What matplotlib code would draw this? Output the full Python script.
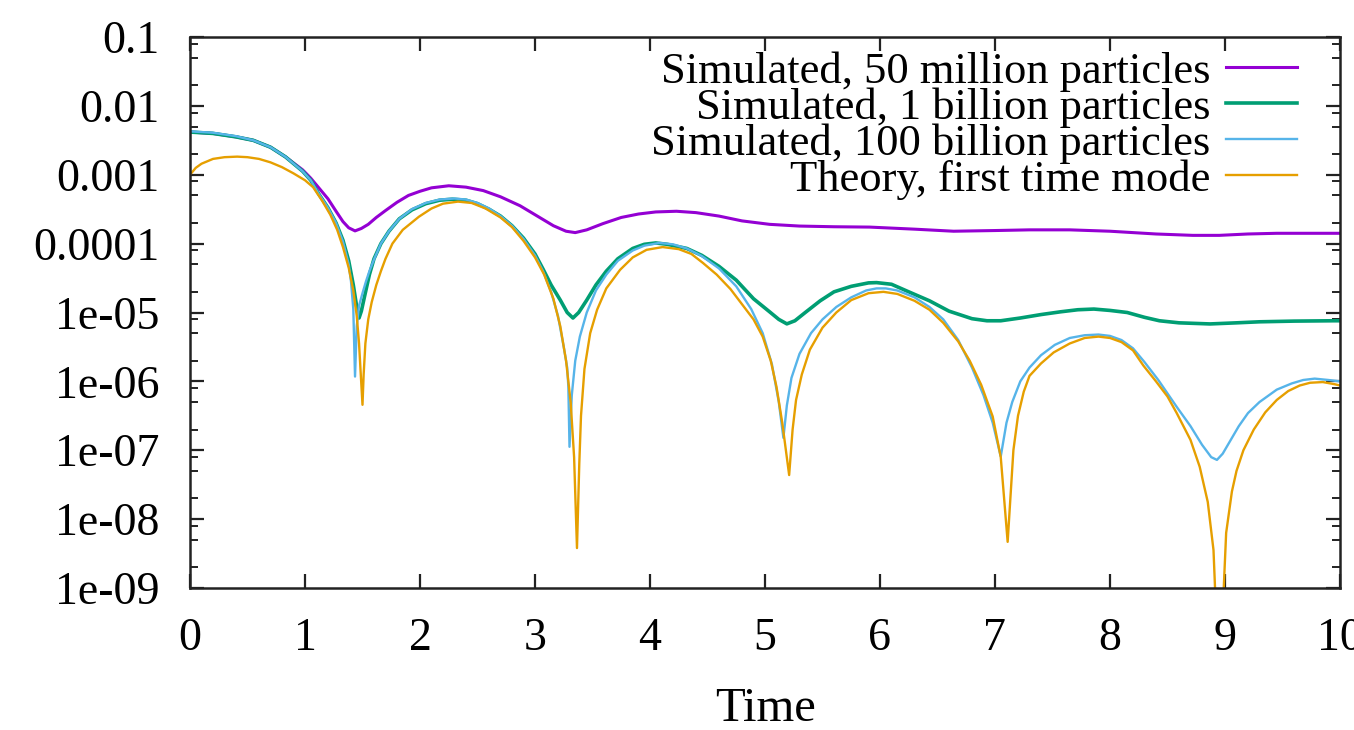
import numpy as np
import matplotlib
matplotlib.use("Agg")
import matplotlib.pyplot as plt
from matplotlib.ticker import LogLocator, FixedLocator, FixedFormatter, NullFormatter

# ---------------- data (y given as log10) ----------------
labels = ["Simulated, 50 million particles",
          "Simulated, 1 billion particles",
          "Simulated, 100 billion particles",
          "Theory, first time mode"]

t_50m = [0, 0.2, 0.4, 0.55, 0.7, 0.83, 0.98, 1.05, 1.12, 1.2, 1.27, 1.33, 1.38,
         1.435, 1.49, 1.55, 1.62, 1.7, 1.8, 1.9, 2.0, 2.1, 2.25, 2.4, 2.55, 2.7,
         2.87, 3.0, 3.16, 3.27, 3.35, 3.45, 3.59, 3.75, 3.9, 4.05, 4.23, 4.4, 4.6,
         4.8, 5.04, 5.3, 5.6, 5.91, 6.3, 6.64, 7.0, 7.3, 7.65, 8.0, 8.4, 8.72,
         8.95, 9.2, 9.45, 9.7, 10]
log_y_50m = [-2.38, -2.40, -2.45, -2.50, -2.60, -2.74, -2.93, -3.05, -3.19, -3.35,
             -3.53, -3.68, -3.77, -3.815, -3.78, -3.72, -3.62, -3.52, -3.40, -3.30,
             -3.24, -3.19, -3.16, -3.18, -3.23, -3.32, -3.45, -3.58, -3.74, -3.82,
             -3.84, -3.80, -3.71, -3.62, -3.57, -3.54, -3.53, -3.55, -3.60, -3.67,
             -3.72, -3.745, -3.755, -3.76, -3.79, -3.82, -3.81, -3.80, -3.80, -3.82,
             -3.86, -3.88, -3.88, -3.86, -3.85, -3.85, -3.85]

t_1b = [0, 0.2, 0.4, 0.55, 0.7, 0.83, 0.98, 1.05, 1.12, 1.2, 1.27, 1.33, 1.38,
        1.42, 1.45, 1.47, 1.49, 1.52, 1.56, 1.6, 1.66, 1.73, 1.82, 1.93, 2.05,
        2.17, 2.28, 2.4, 2.5, 2.6, 2.7, 2.8, 2.9, 3.0, 3.07, 3.14, 3.22, 3.28,
        3.33, 3.38, 3.45, 3.53, 3.62, 3.72, 3.85, 3.95, 4.05, 4.15, 4.32, 4.45,
        4.6, 4.75, 4.9, 5.04, 5.12, 5.19, 5.26, 5.35, 5.48, 5.6, 5.75, 5.9, 5.97,
        6.1, 6.25, 6.43, 6.6, 6.8, 6.93, 7.05, 7.22, 7.4, 7.57, 7.72, 7.86, 8.0,
        8.15, 8.3, 8.43, 8.6, 8.87, 9.1, 9.3, 9.6, 9.94, 10]
log_y_1b = [-2.38, -2.40, -2.45, -2.50, -2.60, -2.74, -2.95, -3.08, -3.28, -3.48,
            -3.70, -3.95, -4.25, -4.60, -4.92, -5.08, -4.98, -4.75, -4.45, -4.22,
            -4.00, -3.82, -3.64, -3.51, -3.42, -3.37, -3.355, -3.37, -3.42, -3.50,
            -3.60, -3.74, -3.92, -4.15, -4.37, -4.60, -4.82, -5.00, -5.08, -5.00,
            -4.82, -4.60, -4.40, -4.22, -4.07, -4.01, -3.99, -4.01, -4.07, -4.17,
            -4.33, -4.53, -4.80, -4.99, -5.10, -5.165, -5.12, -5.00, -4.83, -4.70,
            -4.62, -4.57, -4.566, -4.59, -4.70, -4.83, -4.98, -5.09, -5.12, -5.12,
            -5.08, -5.03, -4.99, -4.96, -4.95, -4.97, -5.00, -5.07, -5.12, -5.15,
            -5.166, -5.15, -5.135, -5.125, -5.12, -5.12]

t_100b = [0, 0.2, 0.4, 0.55, 0.7, 0.83, 0.98, 1.05, 1.12, 1.2, 1.27, 1.33, 1.38,
          1.40, 1.42, 1.435, 1.45, 1.47, 1.5, 1.53, 1.56, 1.6, 1.66, 1.73, 1.82,
          1.93, 2.05, 2.17, 2.3, 2.4, 2.5, 2.6, 2.7, 2.8, 2.9, 3.0, 3.07, 3.14,
          3.2, 3.25, 3.28, 3.29, 3.30, 3.32, 3.35, 3.39, 3.45, 3.53, 3.62, 3.72,
          3.85, 3.95, 4.08, 4.2, 4.32, 4.45, 4.6, 4.75, 4.88, 4.98, 5.06, 5.12,
          5.16, 5.19, 5.23, 5.3, 5.4, 5.5, 5.62, 5.75, 5.88, 5.97, 6.05, 6.15, 6.3,
          6.43, 6.55, 6.68, 6.8, 6.9, 6.98, 7.05, 7.1, 7.15, 7.22, 7.3, 7.4, 7.52,
          7.65, 7.78, 7.9, 8.0, 8.1, 8.2, 8.3, 8.42, 8.58, 8.7, 8.8, 8.88, 8.93,
          8.98, 9.05, 9.12, 9.2, 9.3, 9.45, 9.58, 9.68, 9.78, 9.9, 10]
log_y_100b = [-2.37, -2.39, -2.44, -2.50, -2.60, -2.74, -2.95, -3.08, -3.28, -3.48,
              -3.70, -3.97, -4.30, -4.55, -4.95, -5.93, -5.20, -4.90, -4.72, -4.55,
              -4.40, -4.23, -4.00, -3.82, -3.64, -3.50, -3.41, -3.36, -3.345, -3.36,
              -3.41, -3.49, -3.60, -3.74, -3.93, -4.17, -4.40, -4.70, -5.05, -5.50,
              -5.80, -6.08, -6.95, -6.20, -5.70, -5.35, -5.00, -4.68, -4.45, -4.25,
              -4.10, -4.03, -3.99, -4.01, -4.07, -4.18, -4.36, -4.62, -4.95, -5.30,
              -5.75, -6.30, -6.82, -6.35, -5.95, -5.60, -5.30, -5.10, -4.92, -4.78,
              -4.68, -4.65, -4.65, -4.68, -4.78, -4.92, -5.10, -5.40, -5.80, -6.20,
              -6.60, -7.09, -6.60, -6.30, -6.00, -5.80, -5.62, -5.47, -5.37, -5.33,
              -5.32, -5.34, -5.40, -5.52, -5.72, -5.98, -6.37, -6.65, -6.92, -7.10,
              -7.14, -7.05, -6.85, -6.65, -6.46, -6.30, -6.12, -6.03, -5.98, -5.96,
              -5.98, -6.00]

t_th = [0, 0.05, 0.1, 0.2, 0.3, 0.41, 0.5, 0.6, 0.7, 0.8, 0.9, 1.0, 1.07, 1.15,
        1.22, 1.28, 1.33, 1.38, 1.42, 1.45, 1.47, 1.485, 1.50, 1.51, 1.525, 1.55,
        1.58, 1.62, 1.66, 1.7, 1.76, 1.85, 1.99, 2.1, 2.2, 2.33, 2.45, 2.57, 2.7,
        2.8, 2.9, 3.0, 3.08, 3.16, 3.22, 3.27, 3.31, 3.34, 3.365, 3.385, 3.40,
        3.43, 3.48, 3.54, 3.62, 3.74, 3.85, 3.97, 4.11, 4.25, 4.36, 4.46, 4.58,
        4.7, 4.8, 4.9, 4.98, 5.05, 5.1, 5.15, 5.21, 5.24, 5.27, 5.32, 5.39, 5.5,
        5.62, 5.75, 5.9, 6.03, 6.15, 6.3, 6.43, 6.55, 6.68, 6.78, 6.88, 6.98,
        7.05, 7.11, 7.16, 7.2, 7.25, 7.3, 7.4, 7.51, 7.65, 7.78, 7.9, 8.0, 8.1,
        8.2, 8.29, 8.4, 8.5, 8.58, 8.7, 8.78, 8.85, 8.90, 8.95, 9.01, 9.06, 9.1,
        9.16, 9.25, 9.35, 9.45, 9.55, 9.65, 9.74, 9.85, 9.95, 10]
log_y_th = [-3.00, -2.90, -2.84, -2.77, -2.745, -2.737, -2.745, -2.77, -2.82,
            -2.89, -2.98, -3.08, -3.18, -3.38, -3.58, -3.80, -4.05, -4.35, -4.68,
            -5.05, -5.45, -5.90, -6.34, -5.90, -5.45, -5.10, -4.85, -4.60, -4.40,
            -4.22, -4.00, -3.80, -3.61, -3.49, -3.42, -3.39, -3.41, -3.49, -3.62,
            -3.76, -3.96, -4.20, -4.45, -4.80, -5.20, -5.70, -6.30, -7.10, -8.42,
            -7.20, -6.50, -5.82, -5.30, -4.96, -4.65, -4.38, -4.20, -4.09, -4.05,
            -4.08, -4.15, -4.28, -4.45, -4.66, -4.88, -5.10, -5.35, -5.70, -6.08,
            -6.60, -7.36, -6.70, -6.27, -5.90, -5.54, -5.22, -5.00, -4.82, -4.72,
            -4.70, -4.73, -4.83, -4.96, -5.15, -5.42, -5.70, -6.05, -6.51, -7.10,
            -8.33, -7.00, -6.50, -6.15, -5.92, -5.74, -5.58, -5.45, -5.37, -5.35,
            -5.37, -5.43, -5.55, -5.77, -6.00, -6.22, -6.46, -6.85, -7.24, -7.75,
            -8.45, -10.5, -8.20, -7.60, -7.30, -7.00, -6.70, -6.45, -6.27, -6.14,
            -6.06, -6.02, -6.01, -6.04, -6.06]

x_ticks = [0, 1, 2, 3, 4, 5, 6, 7, 8, 9, 10]
y_ticks = [1e-9, 1e-8, 1e-7, 1e-6, 1e-5, 1e-4, 1e-3, 1e-2, 1e-1]
y_tick_labels = ["1e-09", "1e-08", "1e-07", "1e-06", "1e-05", "0.0001",
                 "0.001", "0.01", "0.1"]

# ---------------- styling ----------------
plt.rcParams['font.family'] = ['Liberation Serif', 'DejaVu Serif']
colors = ["#9400d3", "#009e73", "#56b4e9", "#e69f00"]
widths = [2.2, 2.6, 1.7, 1.7]

fig = plt.figure(figsize=(13.54, 7.30), dpi=100)
ax = fig.add_axes([190/1354, 1 - 588/730, 1150/1354, 551/730])

series = [(t_50m, log_y_50m), (t_1b, log_y_1b), (t_100b, log_y_100b), (t_th, log_y_th)]
for (t, ly), c, w, lab in zip(series, colors, widths, labels):
    ax.plot(t, 10.0 ** np.asarray(ly), color=c, lw=w, label=lab,
            solid_joinstyle='round')

ax.set_yscale('log')
ax.set_xlim(0, 10)
ax.set_ylim(1e-9, 0.1)

ax.xaxis.set_major_locator(FixedLocator(x_ticks))
ax.yaxis.set_major_locator(FixedLocator(y_ticks))
ax.yaxis.set_major_formatter(FixedFormatter(y_tick_labels))
ax.yaxis.set_minor_locator(LogLocator(base=10, subs=(2.0, 5.0, 8.0), numticks=30))
ax.yaxis.set_minor_formatter(NullFormatter())

ax.tick_params(axis='both', which='major', direction='in', top=True, right=True,
               length=10, width=1.6, labelsize=33, color='#222222')
ax.tick_params(axis='y', which='minor', direction='in', left=True, right=True,
               length=5.5, width=1.4, color='#222222')
ax.tick_params(axis='x', which='major', pad=21)
ax.tick_params(axis='y', which='major', pad=22)
for sp in ax.spines.values():
    sp.set_linewidth(1.8)
    sp.set_color('#222222')

ax.set_xlabel("Time", fontsize=35, labelpad=20)

leg = ax.legend(loc='upper right', bbox_to_anchor=((1297-190)/1150, (588-51)/551),
                frameon=False, markerfirst=False, fontsize=32,
                handlelength=1.6, handletextpad=0.35, labelspacing=-0.1,
                borderpad=0, borderaxespad=0)

fig.savefig("out.png", dpi=100)
